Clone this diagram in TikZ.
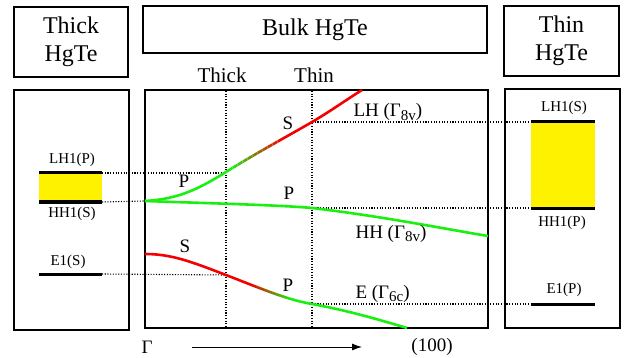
\documentclass[tikz,border=0pt]{standalone}
\usepackage{fontspec}
\setmainfont{Liberation Serif}
\usetikzlibrary{arrows.meta}
\definecolor{bandgreen}{RGB}{25,240,15}
\definecolor{bandred}{RGB}{245,0,0}
\def\lhband{(145,201) .. controls (180,199) and (200,188) .. (226,172) .. controls (258,152) and (288,136) .. (312,122) .. controls (330,111.5) and (346,100) .. (362,90)}
\def\hhband{(145,201) .. controls (200,203) and (280,205) .. (312,208) .. controls (380,216) and (440,228) .. (488,236)}
\def\eband{(145,254) .. controls (172,254) and (192,262) .. (226,275) .. controls (262,289) and (288,300) .. (312,304) .. controls (350,311) and (380,320) .. (407,328)}

\begin{document}
\begin{tikzpicture}[x=1pt,y=-1pt,>={Latex[length=10pt,width=7pt]},
    box/.style={draw,line width=1.3pt},
    level/.style={line width=3pt},
    guide/.style={line width=1.1pt,dash pattern=on 1.1pt off 1.6pt},
    band/.style={line width=2.6pt},
    title/.style={font=\fontsize{24}{28}\selectfont,align=center},
    lbl/.style={font=\fontsize{15}{18}\selectfont},
    big/.style={font=\fontsize{19}{22}\selectfont}]

    \useasboundingbox (0,0) rectangle (626,358);

    % title boxes
    \node[box,title,minimum width=114pt,minimum height=70pt] (thickbox) at (71,42) {Thick\\HgTe};
    \node[box,title,minimum width=344pt,minimum height=47pt] (bulkbox) at (315,29.5) {Bulk HgTe};
    \node[box,title,minimum width=115pt,minimum height=70pt] (thinbox) at (561.5,41) {Thin\\HgTe};

    % panels
    \draw[box] (14,90) rectangle (129,330);
    \draw[box] (145,90) rectangle (488,328);
    \draw[box] (505,89) rectangle (620,328);

    \draw (222,75) node[font=\fontsize{21}{24}\selectfont] (thicklbl) {Thick};
    \draw (314,75) node[font=\fontsize{21}{24}\selectfont] (thinlbl) {Thin};

    % levels, thick side
    \coordinate (tkLHw) at (39,173); \coordinate (tkLH) at (102,173);
    \coordinate (tkHHw) at (39,202); \coordinate (tkHH) at (102,202);
    \coordinate (tkEw) at (39,274);  \coordinate (tkE) at (102,274);
    % levels, thin side
    \coordinate (tnLH) at (531,122); \coordinate (tnLHe) at (595,122);
    \coordinate (tnHH) at (531,208); \coordinate (tnHHe) at (595,208);
    \coordinate (tnE) at (531,304);  \coordinate (tnEe) at (595,304);
    % crossings in the bulk panel
    \coordinate (thickT) at (226,91); \coordinate (thickB) at (226,327);
    \coordinate (thinT) at (312,91);  \coordinate (thinB) at (312,327);
    \coordinate (lhA) at (226,173); \coordinate (gam) at (145,201); \coordinate (eA) at (226,275);
    \coordinate (lhB) at (312,122); \coordinate (hhB) at (312,208); \coordinate (eB) at (312,304);

    \fill[yellow] (tkLHw) rectangle (tkHH);
    \fill[yellow] (tnLH) rectangle (tnHHe);

    \draw[guide] (thickT) -- (thickB);
    \draw[guide] (thinT) -- (thinB);
    \draw[guide] (tkLH) -- (lhA);
    \draw[guide] (tkHH) -- (gam);
    \draw[guide] (tkE) -- (eA);
    \draw[guide] (lhB) -- (tnLH);
    \draw[guide] (hhB) -- (tnHH);
    \draw[guide] (eB) -- (tnE);

    \draw[level] (tkLHw) -- (tkLH);
    \draw[level] (tkHHw) -- (tkHH);
    \draw[level] (tkEw) -- (tkE);
    \draw[level] (tnLH) -- (tnLHe);
    \draw[level] (tnHH) -- (tnHHe);
    \draw[level] (tnE) -- (tnEe);

    \draw (72,160) node[lbl] (tkLHl) {LH1(P)};
    \draw (72,214) node[lbl] (tkHHl) {HH1(S)};
    \draw (68,262) node[lbl] (tkEl) {E1(S)};
    \draw (564,108) node[lbl] (tnLHl) {LH1(S)};
    \draw (562,223) node[lbl] (tnHHl) {HH1(P)};
    \draw (564,290) node[lbl] (tnEl) {E1(P)};

    % bands
    \draw[band,bandgreen] \hhband;
    \begin{scope}
        \clip (140,80) rectangle (230,335);
        \draw[band,bandgreen] \lhband;
    \end{scope}
    \begin{scope}
        \clip (280,80) rectangle (490,335);
        \draw[band,bandred] \lhband;
    \end{scope}
    \begin{scope}
        \clip (140,80) rectangle (250,335);
        \draw[band,bandred] \eband;
    \end{scope}
    \begin{scope}
        \clip (290,80) rectangle (490,335);
        \draw[band,bandgreen] \eband;
    \end{scope}
    \foreach \i in {0,...,19} {
        \pgfmathtruncatemacro\p{100-5*\i}
        \begin{scope}
            \clip (230+2.5*\i,80) rectangle ++(2.6,255);
            \draw[band,bandgreen!\p!bandred] \lhband;
        \end{scope}
        \begin{scope}
            \clip (250+2*\i,80) rectangle ++(2.1,255);
            \draw[band,bandred!\p!bandgreen] \eband;
        \end{scope}
    }

    \draw (184,181) node[big] (lhP) {P};
    \draw (288,123) node[big] (lhS) {S};
    \draw (289,193) node[big] (hhP) {P};
    \draw (185,246) node[big] (eS) {S};
    \draw (288,285) node[big] (eP) {P};
    \draw (350,117) node[big,anchor=base west] (lhname) {LH (Γ\raisebox{-0.45ex}{\fontsize{15}{15}\selectfont 8v})};
    \draw (352,238) node[big,anchor=base west] (hhname) {HH (Γ\raisebox{-0.45ex}{\fontsize{15}{15}\selectfont 8v})};
    \draw (352,298) node[big,anchor=base west] (ename) {E (Γ\raisebox{-0.45ex}{\fontsize{15}{15}\selectfont 6c})};

    % axis
    \def\axis{347}
    \draw (147,\axis) node[big] (gamma) {Γ};
    \draw (432,\axis) node[big] (dir) {(100)};
    \coordinate (kfrom) at (192,\axis);
    \coordinate (kto) at (362,\axis);
    \draw[->,line width=0.9pt] (kfrom) -- (kto);

\end{tikzpicture}
\end{document}
